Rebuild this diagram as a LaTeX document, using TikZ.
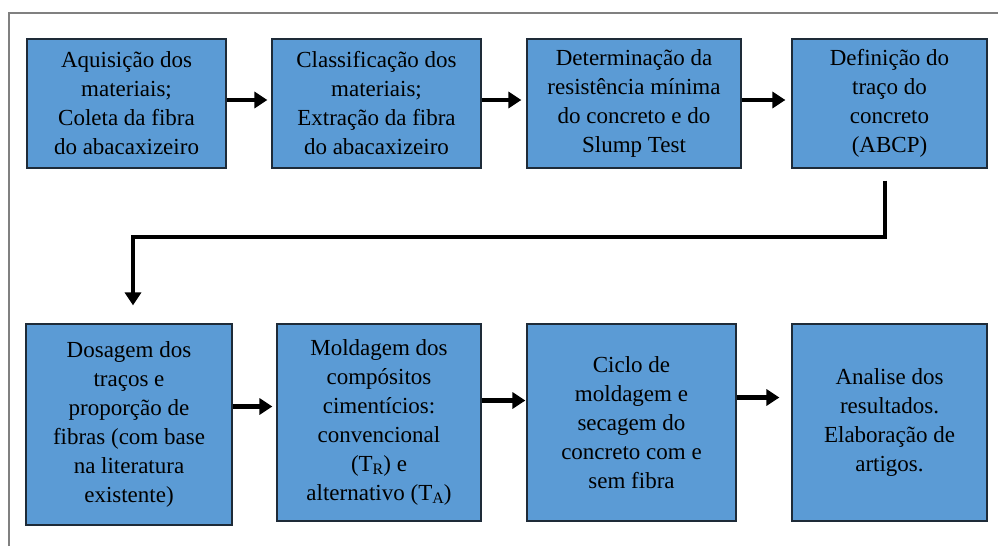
\documentclass[tikz,border=0pt]{standalone}
\usepackage{fontspec}
\setmainfont{Liberation Serif}
\newfontfamily\fonteetapa{Liberation Serif}
\usepackage{tikz}
\usetikzlibrary{calc}
\usetikzlibrary{arrows.meta}
\definecolor{caixa}{HTML}{5B9BD5}
\definecolor{borda}{HTML}{1E2B38}
\newcommand{\sub}[1]{\raisebox{-0.25ex}{\fontsize{16}{16}\selectfont #1}}
\tikzstyle{every node}=[font=\fonteetapa\fontsize{23}{29}\selectfont]
\tikzstyle{etapa}=[draw=borda, line width=1.2pt, fill=caixa, align=center, inner sep=0pt]
\tikzstyle{seta}=[line width=4.5pt, -{Triangle[length=13pt,width=16pt]}]

\begin{document}
\begin{tikzpicture}[x=1pt, y=-1pt]
        \useasboundingbox (0, 0) rectangle (998, 546);
        \draw [gray, line width=1.5pt] (9, 546) -- (9, 13) -- (998, 13);

        \node [etapa, minimum width=199pt, minimum height=129pt] (aquisicao) at (126.5, 103.5)
            {Aquisição dos\\ materiais;\\ Coleta da fibra\\ do abacaxizeiro};
        \node [etapa, minimum width=209pt, minimum height=129pt] (classif) at (376.5, 103.5)
            {Classificação dos\\ materiais;\\ Extração da fibra\\ do abacaxizeiro};
        \node [etapa, minimum width=214pt, minimum height=129pt] (resist) at (634, 103.5)
            {Determinação da\\ resistência mínima\\ do concreto e do\\ Slump Test};
        \node [etapa, minimum width=195pt, minimum height=129pt] (traco) at (889.5, 103.5)
            {Definição do\\ traço do\\ concreto\\ (ABCP)};

        \node [etapa, minimum width=206pt, minimum height=201pt] (dosagem) at (129, 424.5)
            {Dosagem dos\\ traços e\\ proporção de\\ fibras (com base\\ na literatura\\ existente)};
        \node [etapa, minimum width=204pt, minimum height=197pt] (moldagem) at (379, 422.5)
            {Moldagem dos\\ compósitos\\ cimentícios:\\ convencional\\ (T\sub{R}) e\\ alternativo (T\sub{A})};
        \node [etapa, minimum width=209pt, minimum height=197pt] (ciclo) at (631.5, 422.5)
            {Ciclo de\\ moldagem e\\ secagem do\\ concreto com e\\ sem fibra};
        \node [etapa, minimum width=195pt, minimum height=197pt] (analise) at (889.5, 422.5)
            {Analise dos\\ resultados.\\ Elaboração de\\ artigos.};

        \draw [seta] ([yshift=3.5pt]aquisicao.east) -- ([xshift=-4pt, yshift=3.5pt]classif.west);
        \draw [seta] ([yshift=3.5pt]classif.east) -- ([xshift=-5pt, yshift=3.5pt]resist.west);
        \draw [seta] ([yshift=3.5pt]resist.east) -- ([xshift=-6pt, yshift=3.5pt]traco.west);

        \coordinate (volta) at (500, 237);
        \draw [seta] ([xshift=-4.5pt, yshift=-12pt]traco.south) |- (volta) -| ([xshift=4pt, yshift=18pt]dosagem.north);

        \draw [seta] ([yshift=18pt]dosagem.east) -- ([xshift=-4pt, yshift=16pt]moldagem.west);
        \draw [seta] ([yshift=22pt]moldagem.east) -- ([xshift=-1pt, yshift=22pt]ciclo.west);
        \draw [seta] ([yshift=25pt]ciclo.east) -- ([xshift=-12pt, yshift=25pt]analise.west);
    \end{tikzpicture}
\end{document}
